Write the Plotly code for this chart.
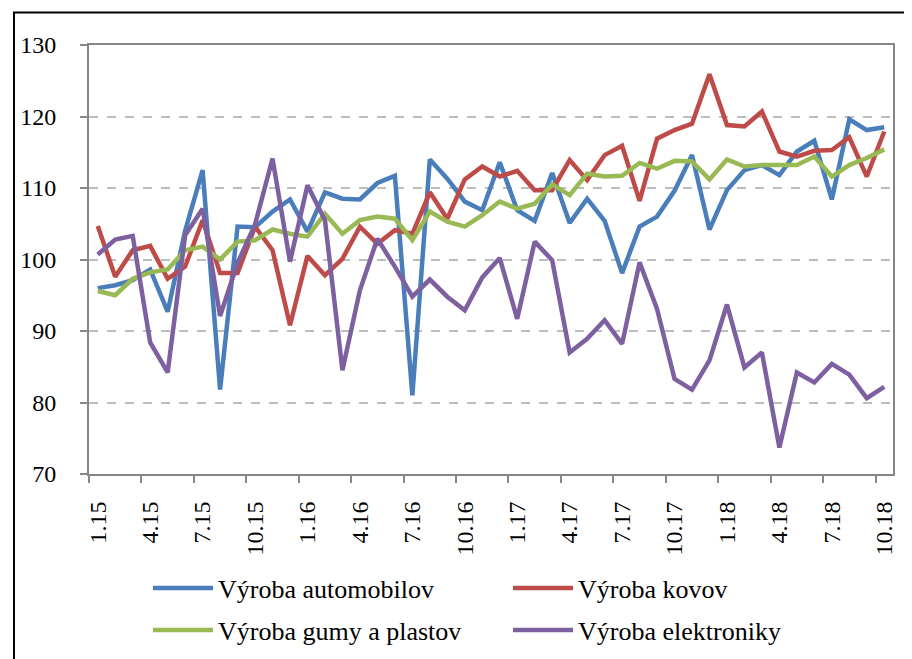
import plotly.graph_objects as go

months = [f"{m}.{y}" for y in (15, 16, 17, 18) for m in range(1, 13)][:46]
tick_labels = months[::3]

automobilov = [96.0, 96.4, 97.1, 98.6, 92.7, 104.0, 112.5, 81.8, 104.6, 104.5,
               106.7, 108.4, 103.9, 109.4, 108.5, 108.4, 110.7, 111.7, 81.0, 114.0,
               111.3, 108.1, 106.9, 113.6, 106.9, 105.4, 112.1, 105.1, 108.5, 105.4,
               98.1, 104.6, 106.0, 109.6, 114.6, 104.2, 109.7, 112.5, 113.2, 111.8,
               115.1, 116.6, 108.4, 119.6, 118.1, 118.5]
kovov = [104.7, 97.6, 101.3, 101.9, 97.3, 99.0, 105.5, 98.1, 98.1, 104.6,
         101.3, 90.8, 100.5, 97.8, 100.1, 104.6, 102.2, 104.1, 103.6, 109.4,
         105.7, 111.2, 113.0, 111.6, 112.4, 109.7, 109.7, 113.9, 111.1, 114.6,
         115.9, 108.2, 116.9, 118.1, 119.0, 125.9, 118.8, 118.6, 120.7, 115.1,
         114.4, 115.2, 115.3, 117.1, 111.6, 117.9]
gumy = [95.6, 95.0, 97.3, 98.2, 98.6, 101.3, 101.8, 100.0, 102.5, 102.7,
        104.2, 103.6, 103.2, 106.4, 103.6, 105.5, 106.0, 105.7, 102.7, 106.7,
        105.3, 104.6, 106.2, 108.1, 107.1, 107.8, 110.5, 109.0, 112.0, 111.6,
        111.7, 113.5, 112.7, 113.8, 113.7, 111.2, 114.0, 113.0, 113.2, 113.2,
        113.2, 114.4, 111.6, 113.2, 114.2, 115.4]
elektroniky = [100.7, 102.8, 103.3, 88.4, 84.2, 103.4, 107.1, 92.1, 99.5, 104.9,
               114.1, 99.7, 110.4, 105.5, 84.5, 95.7, 102.9, 99.0, 94.8, 97.2,
               94.8, 92.9, 97.5, 100.2, 91.7, 102.5, 99.9, 87.0, 88.9, 91.5,
               88.2, 99.6, 93.1, 83.3, 81.8, 85.9, 93.7, 84.9, 87.0, 73.7,
               84.2, 82.8, 85.4, 83.9, 80.6, 82.2]

series = [
    ("Výroba automobilov", automobilov, "#4A7EBB", "legend"),
    ("Výroba kovov", kovov, "#BE4B48", "legend"),
    ("Výroba gumy a plastov", gumy, "#98B954", "legend2"),
    ("Výroba elektroniky", elektroniky, "#7D60A0", "legend2"),
]

FONT = "Liberation Serif, Times New Roman, serif"
x_idx = list(range(len(months)))

# page body has an 8px margin, so the figure is sized to fit the 912x659 window
W, H = 904, 651

fig = go.Figure()
for name, vals, color, leg in series:
    fig.add_trace(go.Scatter(x=x_idx, y=vals, name=name, mode="lines",
                             line=dict(color=color, width=4.5), legend=leg,
                             customdata=months,
                             hovertemplate="%{customdata}: %{y}<extra>" + name + "</extra>"))

leg_common = dict(orientation="h", xanchor="left", yanchor="middle", yref="container",
                  xref="container",
                  font=dict(family=FONT, size=26, color="black"),
                  entrywidth=285, entrywidthmode="pixels", itemwidth=60,
                  bgcolor="rgba(0,0,0,0)", borderwidth=0)
leg1 = dict(leg_common, x=140 / W, y=(H - 580) / H)
leg2 = dict(leg_common, x=140 / W, y=(H - 622) / H)

fig.update_layout(
    width=W, height=H,
    margin=dict(l=81, r=19, t=36.5, b=185, autoexpand=False),
    paper_bgcolor="white", plot_bgcolor="white",
    font=dict(family=FONT, color="black", size=24),
    showlegend=True,
    legend=leg1,
    legend2=leg2,
    xaxis=dict(range=[-0.5, len(months) - 0.5], tickmode="array",
               tickvals=x_idx[::3], ticktext=tick_labels, tickangle=-90,
               ticks="", showgrid=False, zeroline=False,
               showline=True, linecolor="#868686", linewidth=2, mirror=True,
               tickfont=dict(family=FONT, size=24, color="black"),
               ticklabelstandoff=16,
               minor=dict(tickmode="linear", tick0=-0.5, dtick=3, ticks="outside",
                          ticklen=7, tickwidth=2, tickcolor="#868686", showgrid=False)),
    yaxis=dict(range=[70, 130], dtick=10, tick0=70,
               ticks="outside", ticklen=7, tickwidth=2, tickcolor="#868686",
               showgrid=True, gridcolor="#BDBDBD", gridwidth=1.5, griddash="dash",
               zeroline=False, showline=True, linecolor="#868686", linewidth=2,
               mirror=True,
               tickfont=dict(family=FONT, size=24, color="black"),
               ticklabelstandoff=19),
    shapes=[dict(type="rect", xref="paper", yref="paper",
                 x0=-0.0933, x1=1.2, y0=-0.6, y1=1.0757,
                 line=dict(color="black", width=2), fillcolor="rgba(0,0,0,0)",
                 layer="below")],
)

fig.write_html("out.html")
